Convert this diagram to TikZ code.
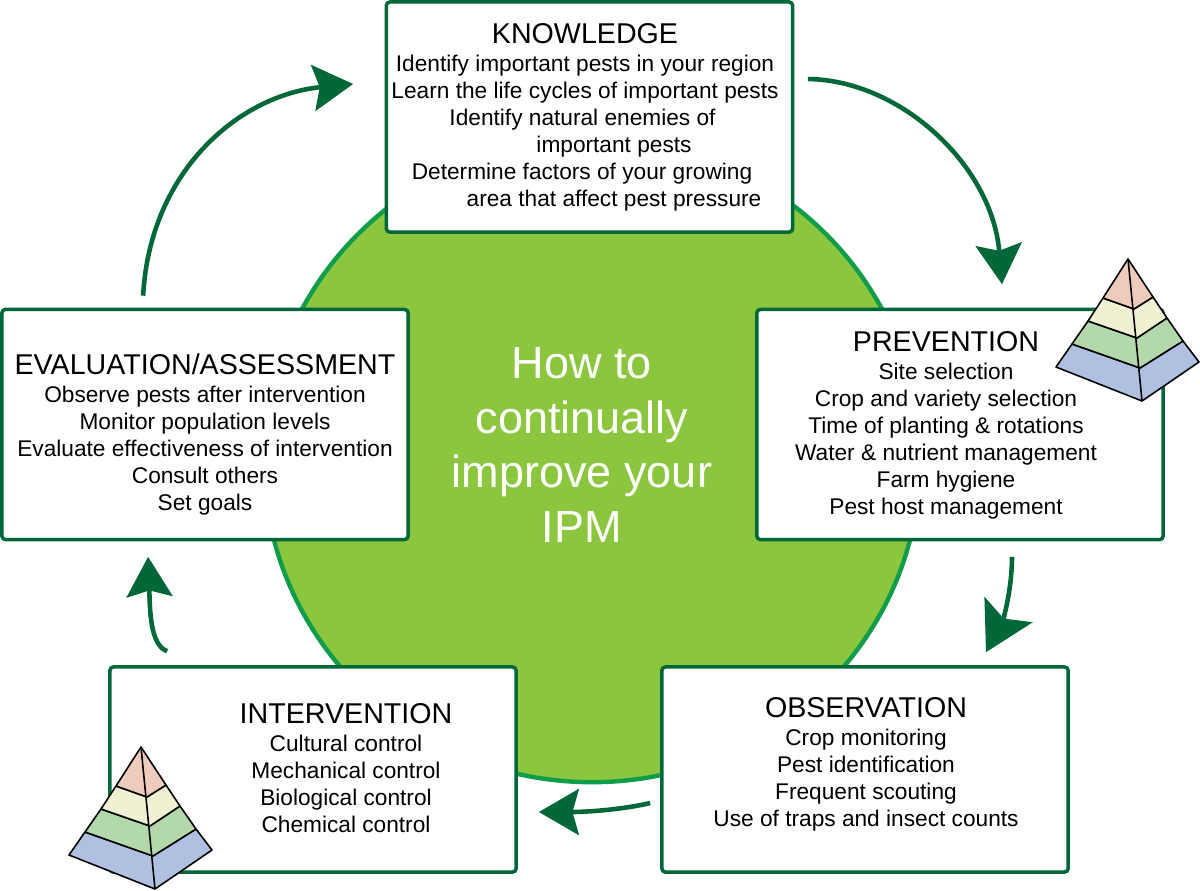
\documentclass[tikz,border=0pt]{standalone}
\usepackage{fontspec}
\setmainfont{Liberation Sans}
\usetikzlibrary{arrows.meta, calc, shapes.geometric}
\definecolor{ringgreen}{HTML}{0F9D4A}
\definecolor{discgreen}{HTML}{8CC63F}
\definecolor{darkgreen}{HTML}{006838}
\definecolor{layerpink}{HTML}{EECBBB}
\definecolor{layercream}{HTML}{F0F1D2}
\definecolor{layergreen}{HTML}{B2D8AC}
\definecolor{layerblue}{HTML}{B0C0E1}
\newcommand{\boxtitle}[1]{{\fontsize{8.14}{7.68}\selectfont #1}\\[0.25pt]}
\tikzstyle{disc} = [ellipse, draw=ringgreen, fill=discgreen, line width=1.25pt, minimum width=6.56cm, minimum height=6.44cm, inner sep=0pt, outer sep=0pt]
\tikzstyle{card} = [rectangle, draw=darkgreen, fill=white, line width=1pt, rounded corners=1pt, minimum width=4.06cm, inner sep=0pt]
\tikzstyle{cardtext} = [align=center, inner sep=0pt, font=\fontsize{6.45}{7.68}\selectfont]
\tikzstyle{flow} = [draw=darkgreen, line width=1.3pt]
\tikzstyle{bighead} = [-{Stealth[length=4.8mm, width=5.4mm, inset=1mm, fill=darkgreen]}]
\tikzstyle{smallhead} = [-{Stealth[length=4mm, width=4.6mm, inset=0.65mm, fill=darkgreen]}]
\tikzstyle{edge} = [draw=black, line width=0.45pt, line join=round]
\newcommand{\pyramid}[1]{
	\begin{scope}[shift={#1}]
		\path [edge, fill=layerblue] (1072,344) -- (1140,368) -- (1183,341) -- (1199,362) -- (1142,401) -- (1056,367) -- cycle;
		\path [edge, fill=layergreen] (1088,321) -- (1137,338) -- (1167,318) -- (1183,341) -- (1140,368) -- (1072,344) -- cycle;
		\path [edge, fill=layercream] (1103,298) -- (1134,309) -- (1153,297) -- (1167,318) -- (1137,338) -- (1088,321) -- cycle;
		\path [edge, fill=layerpink] (1128,259) -- (1153,297) -- (1134,309) -- (1103,298) -- cycle;
		\path [edge] (1128,259) -- (1142,401);
	\end{scope}
}

\begin{document}
\begin{tikzpicture}[x=0.01cm, y=-0.01cm]
	\useasboundingbox (0,0) rectangle (1200,890);

	\node [disc] (disc) at (592,460) {};
	\node [align=center, text=white, inner sep=0pt, font=\fontsize{12.8}{15.6}\selectfont] (goal) at (582,445) {How to\\continually\\improve your\\IPM};

	\node [card, minimum height=2.3cm] (knowledge) at (589.5,117) {};
	\node [card, minimum height=2.3cm] (prevention) at (960,424.5) {};
	\node [card, minimum height=2.05cm] (observation) at (865,769.5) {};
	\node [card, minimum height=2.05cm] (intervention) at (313,769.5) {};
	\node [card, minimum height=2.3cm] (evaluation) at (205,424.5) {};

	\node [cardtext] (knowledgetext) at (585,117.5) {\boxtitle{KNOWLEDGE}Identify important pests in your region\\Learn the life cycles of important pests\\Identify natural enemies of\hspace*{0.05cm}\mbox{}\\\hspace*{0.58cm}important pests\\Determine factors of your growing\hspace*{0.06cm}\mbox{}\\\hspace*{0.58cm}area that affect pest pressure};
	\node [cardtext] (preventiontext) at (946,425.5) {\boxtitle{PREVENTION}Site selection\\Crop and variety selection\\Time of planting \& rotations\\Water \& nutrient management\\Farm hygiene\\Pest host management};
	\node [cardtext] (observationtext) at (866,764.5) {\boxtitle{OBSERVATION}Crop monitoring\\Pest identification\\Frequent scouting\\Use of traps and insect counts};
	\node [cardtext] (interventiontext) at (346,768.5) {\boxtitle{INTERVENTION}Cultural control\\Mechanical control\\Biological control\\Chemical control};
	\node [cardtext] (evaluationtext) at (205,434.5) {\boxtitle{EVALUATION/ASSESSMENT}Observe pests after intervention\\Monitor population levels\\Evaluate effectiveness of intervention\\Consult others\\Set goals};

	\coordinate (evaluationout) at ($(evaluation.north west)+(143,-12)$);
	\coordinate (knowledgein) at ($(knowledge.west)+(-31.5,-33)$);
	\coordinate (knowledgeout) at ($(knowledge.east)+(13.5,-38)$);
	\coordinate (preventionin) at ($(prevention.north)+(42,-23.5)$);
	\coordinate (preventionout) at ($(prevention.south)+(52,15.5)$);
	\coordinate (observationin) at ($(observation.north)+(121,-13)$);
	\coordinate (observationout) at ($(observation.west)+(-10,33.5)$);
	\coordinate (interventionin) at ($(intervention.east)+(21,42.5)$);
	\coordinate (interventionout) at ($(intervention.north west)+(59,-14)$);
	\coordinate (evaluationin) at ($(evaluation.south west)+(148,15.5)$);

	\path [flow, smallhead] (evaluationout) .. controls (150,170) and (240,95) .. (knowledgein);
	\path [flow, smallhead] (knowledgeout) .. controls (900,80) and (992,165) .. (preventionin);
	\path [flow, bighead] (preventionout) .. controls (1012,590) and (1003,620) .. (observationin);
	\path [flow, smallhead] (observationout) .. controls (625,809) and (590,812) .. (interventionin);
	\path [flow, smallhead] (interventionout) .. controls (150,645) and (150,610) .. (evaluationin);

	\pyramid{(0,0)}
	\pyramid{(-987,488)}
\end{tikzpicture}
\end{document}
